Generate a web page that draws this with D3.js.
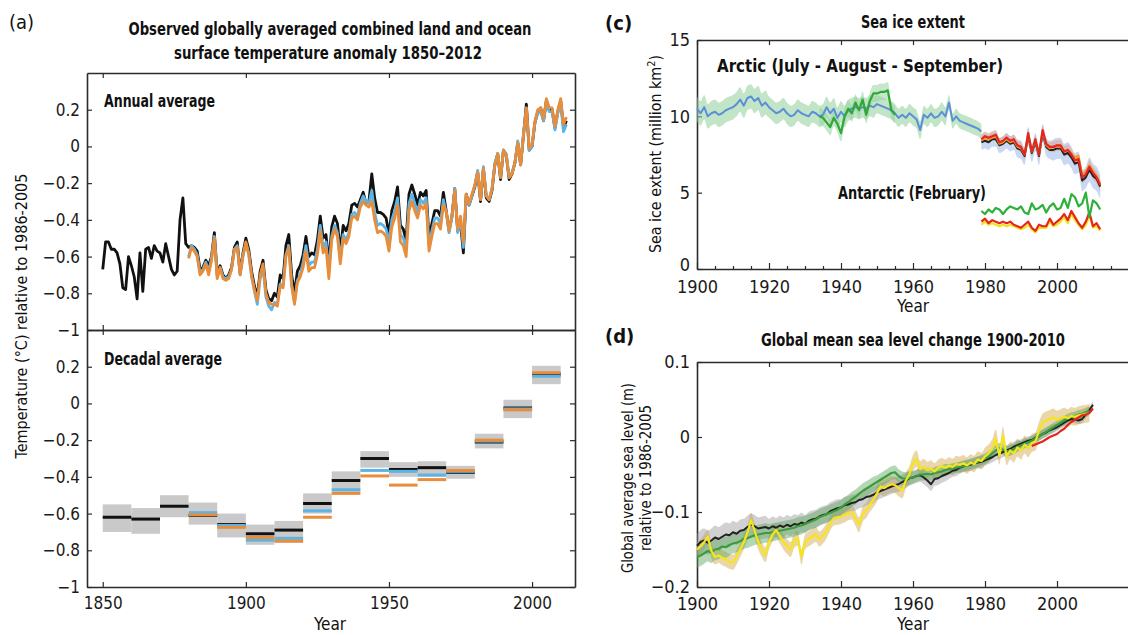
<!DOCTYPE html>
<html>
<head>
<meta charset="utf-8">
<title>Observed changes in the climate system</title>
<script src="https://cdn.jsdelivr.net/npm/d3@7/dist/d3.min.js"></script>
<style>
  body { margin: 0; background: #fff; }
  svg { display: block; }
</style>
</head>
<body>
<svg id="fig" width="1128" height="635"></svg>
<script>
// ---------------- (a) temperature anomaly, annual (1850-2012) ----------------
const tempStart = 1850;
const tempBlack = [
  -0.67,-0.52,-0.52,-0.56,-0.56,-0.58,-0.64,-0.77,-0.78,-0.60,
  -0.65,-0.71,-0.83,-0.58,-0.79,-0.56,-0.55,-0.61,-0.54,-0.57,
  -0.58,-0.63,-0.53,-0.60,-0.67,-0.70,-0.68,-0.40,-0.28,-0.53,
  -0.55,-0.54,-0.55,-0.57,-0.67,-0.66,-0.62,-0.65,-0.60,-0.47,
  -0.70,-0.65,-0.70,-0.72,-0.70,-0.66,-0.55,-0.52,-0.69,-0.58,
  -0.50,-0.56,-0.68,-0.76,-0.82,-0.68,-0.62,-0.78,-0.83,-0.84,
  -0.80,-0.82,-0.70,-0.72,-0.54,-0.48,-0.70,-0.80,-0.68,-0.65,
  -0.59,-0.49,-0.60,-0.58,-0.59,-0.51,-0.38,-0.50,-0.48,-0.64,
  -0.44,-0.38,-0.42,-0.57,-0.43,-0.46,-0.42,-0.32,-0.31,-0.33,
  -0.29,-0.25,-0.31,-0.30,-0.15,-0.28,-0.36,-0.36,-0.37,-0.39,
  -0.48,-0.35,-0.30,-0.22,-0.43,-0.45,-0.51,-0.26,-0.21,-0.26,
  -0.32,-0.25,-0.27,-0.24,-0.50,-0.42,-0.35,-0.35,-0.38,-0.25,
  -0.35,-0.46,-0.38,-0.23,-0.46,-0.42,-0.58,-0.26,-0.32,-0.27,
  -0.22,-0.14,-0.30,-0.12,-0.28,-0.30,-0.24,-0.10,-0.04,-0.18,
  -0.02,-0.05,-0.18,-0.15,-0.09,0.02,-0.10,0.06,0.23,-0.02,
  0.00,0.13,0.19,0.21,0.14,0.25,0.20,0.20,0.10,0.19,
  0.25,0.10,0.14
];
const tempStart2 = 1880;
const tempBlue = [
  -0.60,-0.54,-0.56,-0.59,-0.69,-0.67,-0.63,-0.68,-0.61,-0.49,
  -0.71,-0.66,-0.71,-0.72,-0.71,-0.67,-0.56,-0.54,-0.70,-0.59,
  -0.53,-0.59,-0.71,-0.79,-0.86,-0.72,-0.66,-0.82,-0.87,-0.89,
  -0.85,-0.86,-0.75,-0.76,-0.59,-0.54,-0.75,-0.85,-0.73,-0.70,
  -0.63,-0.54,-0.65,-0.63,-0.63,-0.56,-0.43,-0.55,-0.52,-0.68,
  -0.49,-0.43,-0.47,-0.62,-0.48,-0.51,-0.47,-0.37,-0.36,-0.38,
  -0.31,-0.27,-0.30,-0.31,-0.24,-0.36,-0.43,-0.42,-0.43,-0.45,
  -0.52,-0.40,-0.35,-0.28,-0.48,-0.50,-0.56,-0.31,-0.26,-0.31,
  -0.36,-0.29,-0.31,-0.28,-0.54,-0.46,-0.39,-0.39,-0.42,-0.29,
  -0.36,-0.47,-0.39,-0.23,-0.47,-0.40,-0.55,-0.27,-0.32,-0.27,
  -0.21,-0.13,-0.29,-0.11,-0.27,-0.29,-0.23,-0.09,-0.04,-0.17,
  -0.02,-0.04,-0.17,-0.14,-0.09,0.03,-0.10,0.07,0.21,-0.02,
  0.00,0.13,0.18,0.19,0.14,0.23,0.19,0.19,0.09,0.18,
  0.23,0.08,0.12
];
const tempOrange = [
  -0.61,-0.55,-0.57,-0.60,-0.70,-0.68,-0.64,-0.70,-0.62,-0.50,
  -0.72,-0.66,-0.72,-0.73,-0.72,-0.67,-0.56,-0.55,-0.70,-0.60,
  -0.52,-0.58,-0.70,-0.78,-0.84,-0.70,-0.64,-0.80,-0.85,-0.86,
  -0.86,-0.87,-0.76,-0.77,-0.60,-0.55,-0.76,-0.86,-0.74,-0.71,
  -0.66,-0.57,-0.68,-0.66,-0.66,-0.59,-0.46,-0.58,-0.55,-0.72,
  -0.51,-0.45,-0.49,-0.64,-0.50,-0.53,-0.49,-0.39,-0.38,-0.40,
  -0.33,-0.30,-0.32,-0.33,-0.30,-0.40,-0.47,-0.46,-0.47,-0.49,
  -0.57,-0.44,-0.39,-0.32,-0.52,-0.54,-0.60,-0.35,-0.30,-0.35,
  -0.39,-0.32,-0.34,-0.31,-0.57,-0.49,-0.42,-0.42,-0.45,-0.32,
  -0.35,-0.46,-0.38,-0.24,-0.45,-0.38,-0.52,-0.26,-0.31,-0.26,
  -0.21,-0.14,-0.29,-0.12,-0.27,-0.29,-0.23,-0.10,-0.04,-0.17,
  -0.02,-0.05,-0.17,-0.15,-0.09,0.02,-0.10,0.06,0.21,-0.01,
  0.01,0.14,0.20,0.21,0.15,0.26,0.21,0.21,0.11,0.20,
  0.26,0.12,0.16
];

// decadal averages
const decStart  = [1850,1860,1870,1880,1890,1900,1910,1920,1930,1940,1950,1960,1970,1980,1990,2000];
const decBlack  = [-0.62,-0.63,-0.56,-0.61,-0.66,-0.71,-0.69,-0.545,-0.42,-0.30,-0.36,-0.35,-0.375,-0.21,-0.025,0.16];
const decBlue   = [null,null,null,-0.595,-0.665,-0.745,-0.735,-0.585,-0.47,-0.365,-0.37,-0.39,-0.37,-0.205,-0.03,0.148];
const decOrange = [null,null,null,-0.607,-0.675,-0.73,-0.75,-0.62,-0.49,-0.395,-0.445,-0.415,-0.365,-0.20,-0.035,0.167];
const decLow    = [-0.70,-0.71,-0.62,-0.66,-0.73,-0.77,-0.76,-0.60,-0.49,-0.35,-0.40,-0.40,-0.41,-0.245,-0.08,0.105];
const decHigh   = [-0.55,-0.57,-0.50,-0.54,-0.60,-0.66,-0.64,-0.49,-0.37,-0.26,-0.32,-0.315,-0.34,-0.165,0.02,0.205];

// ---------------- (c) sea ice extent (million km2) ----------------
const arcticStart = 1900;
const arcticBlue = [
  10.5,10.2,10.6,10.0,10.2,10.3,10.1,10.2,10.4,10.5,
  10.6,10.8,11.1,10.7,11.2,11.3,11.0,11.2,10.7,10.9,
  10.6,10.4,10.2,10.3,10.5,10.2,10.0,10.1,10.4,10.2,
  10.1,10.0,10.3,10.2,10.0,10.1,10.6,10.2,10.5,9.9,
  10.3,10.0,10.4,10.5,10.6,10.5,10.6,10.5,10.7,10.6,
  10.8,10.7,10.6,10.5,10.4,10.2,9.9,10.1,9.9,10.2,
  10.0,9.8,9.1,10.1,9.9,10.2,9.9,10.0,10.3,10.0,
  10.9,9.7,10.0,9.7,9.6,9.5,9.4,9.3,9.2,9.0
];
const arcticBandErr = [0.8,0.8,0.7,0.7,0.7,0.6,0.6,0.5];   // per decade 1900s..1970s
const arcticGreenStart = 1934;
const arcticGreen = [10.0,9.9,9.6,9.3,9.9,9.5,8.9,10.0,10.5,10.2,10.9,10.4,11.1,10.1,11.0,11.5,11.5,11.6,11.6,11.7,10.4,10.1];
const satStart = 1979;
const arcticRed = [
  8.5,8.7,8.6,8.7,8.8,8.3,8.4,8.6,8.4,8.5,
  8.1,8.0,7.5,8.9,7.7,8.5,7.5,9.1,8.2,8.0,
  8.0,8.1,8.1,7.7,7.8,7.5,7.1,7.2,6.0,6.2,
  6.7,6.3,6.0,5.5
];
const arcticBlack = [
  8.3,8.4,8.3,8.5,8.5,8.1,8.2,8.4,8.2,8.3,
  7.9,7.8,7.4,8.7,7.6,8.3,7.4,8.9,8.0,7.8,
  7.8,7.9,7.9,7.5,7.6,7.3,6.9,7.0,5.8,6.0,
  6.5,6.1,5.9,5.4
];
const arcticOrange = [
  8.4,8.6,8.5,8.6,8.7,8.2,8.3,8.5,8.3,8.4,
  8.0,7.9,7.5,8.8,7.7,8.4,7.5,9.0,8.1,7.9,
  8.0,8.0,8.0,7.7,7.8,7.6,7.3,7.4,6.2,6.4,
  6.8,6.4,6.1,5.6
];
const satBlueErr = [0.5,0.6,0.7,0.8];   // per decade 1979..2012
const satRedErr  = [0.3,0.3,0.35,0.4];
const antGreen = [
  3.8,3.6,3.9,3.7,4.0,3.9,3.6,3.9,4.1,4.0,
  3.9,4.1,3.7,3.6,4.3,3.9,4.0,4.2,3.7,4.1,
  4.3,3.9,4.0,4.6,4.0,4.9,4.7,4.1,4.3,5.0,
  3.4,4.5,4.3,3.9
];
const antRed = [
  3.1,3.3,3.0,3.2,3.1,3.0,3.1,3.0,3.1,2.9,
  2.8,2.7,2.9,3.1,2.7,2.5,2.9,2.8,2.8,3.3,
  2.9,3.1,3.3,3.6,3.2,3.8,3.4,3.0,2.7,3.1,
  3.7,2.8,3.0,2.6
];
const antYellow = [
  2.9,3.1,2.9,3.0,2.9,2.8,2.9,2.8,2.9,2.8,
  2.7,2.6,2.7,2.9,2.6,2.4,2.7,2.7,2.7,3.1,
  2.8,2.9,3.1,3.4,3.0,3.6,3.2,2.9,2.6,2.9,
  3.5,2.7,2.8,2.5
];

// ---------------- (d) global mean sea level (m) ----------------
const slStart = 1900;
const slBlack = [
  -0.145,-0.140,-0.138,-0.141,-0.138,-0.134,-0.136,-0.133,-0.130,-0.131,
  -0.127,-0.129,-0.125,-0.124,-0.120,-0.117,-0.119,-0.122,-0.121,-0.120,
  -0.122,-0.119,-0.121,-0.118,-0.120,-0.117,-0.119,-0.116,-0.117,-0.114,
  -0.116,-0.112,-0.110,-0.109,-0.106,-0.104,-0.103,-0.099,-0.097,-0.095,
  -0.094,-0.091,-0.090,-0.088,-0.087,-0.084,-0.083,-0.080,-0.079,-0.077,
  -0.074,-0.072,-0.070,-0.068,-0.066,-0.064,-0.063,-0.060,-0.058,-0.055,
  -0.054,-0.052,-0.051,-0.054,-0.058,-0.063,-0.056,-0.055,-0.052,-0.050,
  -0.048,-0.045,-0.044,-0.041,-0.039,-0.038,-0.037,-0.035,-0.034,-0.033,
  -0.031,-0.029,-0.027,-0.024,-0.022,-0.020,-0.018,-0.016,-0.013,-0.011,
  -0.009,-0.007,-0.005,-0.004,-0.001,0.001,0.004,0.006,0.009,0.011,
  0.013,0.016,0.019,0.022,0.024,0.023,0.022,0.024,0.030,0.036,
  0.043
];
const slGreen = [
  -0.160,-0.158,-0.155,-0.152,-0.154,-0.150,-0.149,-0.146,-0.147,-0.144,
  -0.142,-0.141,-0.139,-0.136,-0.135,-0.133,-0.131,-0.130,-0.129,-0.128,
  -0.128,-0.127,-0.126,-0.125,-0.124,-0.123,-0.122,-0.121,-0.119,-0.118,
  -0.116,-0.114,-0.112,-0.110,-0.107,-0.105,-0.103,-0.101,-0.099,-0.097,
  -0.094,-0.090,-0.087,-0.083,-0.080,-0.076,-0.072,-0.069,-0.066,-0.063,
  -0.060,-0.057,-0.054,-0.051,-0.048,-0.047,-0.052,-0.055,-0.056,-0.055,
  -0.054,-0.052,-0.050,-0.050,-0.049,-0.050,-0.048,-0.047,-0.046,-0.044,
  -0.043,-0.042,-0.041,-0.040,-0.039,-0.038,-0.036,-0.035,-0.033,-0.031,
  -0.029,-0.026,-0.022,-0.018,-0.015,-0.017,-0.019,-0.018,-0.016,-0.013,
  -0.011,-0.009,-0.007,-0.005,-0.002,0.001,0.004,0.007,0.010,0.013,
  0.016,0.019,0.022,0.025,0.027,0.028,0.030,0.031,0.033,0.035
];
const slYellow = [
  -0.150,-0.146,-0.140,-0.133,-0.152,-0.160,-0.158,-0.161,-0.163,-0.166,
  -0.167,-0.160,-0.150,-0.140,-0.128,-0.111,-0.125,-0.140,-0.150,-0.157,
  -0.140,-0.130,-0.124,-0.132,-0.140,-0.146,-0.150,-0.138,-0.135,-0.160,
  -0.140,-0.136,-0.133,-0.130,-0.136,-0.132,-0.125,-0.115,-0.108,-0.107,
  -0.106,-0.104,-0.101,-0.100,-0.108,-0.117,-0.103,-0.098,-0.090,-0.084,
  -0.075,-0.066,-0.068,-0.065,-0.063,-0.064,-0.068,-0.071,-0.058,-0.050,
  -0.035,-0.029,-0.043,-0.040,-0.044,-0.042,-0.046,-0.041,-0.039,-0.041,
  -0.038,-0.040,-0.036,-0.037,-0.035,-0.038,-0.034,-0.036,-0.030,-0.032,
  -0.026,-0.022,-0.015,-0.002,-0.025,0.002,-0.026,-0.018,-0.022,-0.014,
  -0.018,-0.010,-0.015,-0.008,-0.006,0.008,0.019,0.022,0.024,0.026,
  0.023,0.025,0.027,0.025,0.028,0.027,0.029,0.030,0.031,0.032
];
const slRedStart = 1993;
const slRed = [-0.012,-0.010,-0.008,-0.006,-0.003,0.000,0.002,0.004,0.008,0.011,0.016,0.020,0.023,0.026,0.029,0.030,0.032,0.038];
const slBlackErr  = [0.016,0.015,0.013,0.012,0.011,0.010,0.009,0.008,0.007,0.006,0.005,0.005];
const slGreenErr  = [0.014,0.013,0.012,0.011,0.010,0.009,0.008,0.007,0.007,0.006,0.006,0.006];
const slYellowErr = [0.010,0.010,0.010,0.010,0.010,0.011,0.011,0.011,0.012,0.012,0.012,0.012];

// ---------------- setup ----------------
const FONT = '"Liberation Sans Narrow","DejaVu Sans Condensed","Arial Narrow",sans-serif';
const AX = '#2b2b2b';
const svg = d3.select('#fig').attr('font-family', FONT);

const toSeries = (start, vals, err) => vals.map((v, i) => ({
  year: start + i, v: v,
  e: err ? err[Math.min(err.length - 1, Math.floor(i / 10))] : 0
}));

function styleAxis(g, fs) {
  g.attr('font-family', FONT).attr('font-size', fs);
  g.select('.domain').attr('stroke', AX).attr('stroke-width', 1.6);
  g.selectAll('.tick line').attr('stroke', AX).attr('stroke-width', 1.2);
  g.selectAll('.tick text').attr('fill', '#1a1a1a');
}

// text helper; o.len squeezes the text to the width it has in the figure (condensed face)
function addText(x, y, txt, o = {}) {
  const t = svg.append('text')
    .attr('x', x).attr('y', y)
    .attr('text-anchor', o.anchor || 'start')
    .attr('font-size', o.size || 16)
    .attr('font-weight', o.weight || 'normal')
    .attr('fill', '#111')
    .text(txt);
  if (o.len) t.attr('textLength', o.len).attr('lengthAdjust', 'spacingAndGlyphs');
  return t;
}

function addLine(x, y, data, color, w) {
  svg.append('path')
    .datum(data.filter(d => d.v != null))
    .attr('fill', 'none')
    .attr('stroke', color)
    .attr('stroke-width', w)
    .attr('stroke-linejoin', 'round')
    .attr('d', d3.line().x(d => x(d.year)).y(d => y(d.v)));
}

function addBand(x, y, data, color, op) {
  svg.append('path')
    .datum(data)
    .attr('fill', color)
    .attr('opacity', op)
    .attr('d', d3.area().curve(d3.curveMonotoneX)
      .x(d => x(d.year)).y0(d => y(d.v - d.e)).y1(d => y(d.v + d.e)));
}

// ================= panel (a) =================
const xA = d3.scaleLinear().domain([1844.5, 2015]).range([87, 575]);
const yA1 = d3.scaleLinear().domain([-1, 0.4]).range([330, 73]);
const yA2 = d3.scaleLinear().domain([-1, 0.4]).range([587, 330]);
const xTicksA = [1850, 1900, 1950, 2000];
const yTicksA = [-1, -0.8, -0.6, -0.4, -0.2, 0, 0.2];
const fmtY = d => d === 0 ? '0' : d3.format('~g')(d);

[yA1, yA2].forEach((y, k) => {
  const [yb, yt] = y.range();
  svg.append('g').attr('transform', `translate(87,0)`)
    .call(d3.axisLeft(y).tickValues(yTicksA).tickSize(-5).tickSizeOuter(0).tickPadding(7).tickFormat(fmtY))
    .call(g => styleAxis(g, 17));
  svg.append('g').attr('transform', `translate(575,0)`)
    .call(d3.axisRight(y).tickValues(yTicksA).tickSize(-5).tickSizeOuter(0).tickFormat(''))
    .call(g => styleAxis(g, 17));
  svg.append('g').attr('transform', `translate(0,${yt})`)
    .call(d3.axisTop(xA).tickValues(xTicksA).tickSize(-5).tickSizeOuter(0).tickFormat(''))
    .call(g => styleAxis(g, 17));
  svg.append('g').attr('transform', `translate(0,${yb})`)
    .call(d3.axisBottom(xA).tickValues(xTicksA).tickSize(-5).tickSizeOuter(0).tickPadding(10)
      .tickFormat(k === 1 ? d3.format('d') : ''))
    .call(g => styleAxis(g, 17));
});

// annual lines
addLine(xA, yA1, toSeries(tempStart, tempBlack), '#111', 2.8);
addLine(xA, yA1, toSeries(tempStart2, tempBlue), '#5cb4e6', 2.8);
addLine(xA, yA1, toSeries(tempStart2, tempOrange), '#e98d3a', 2.8);

// decadal boxes and lines
const dec = decStart.map((s, i) => ({ s, black: decBlack[i], blue: decBlue[i], orange: decOrange[i], lo: decLow[i], hi: decHigh[i] }));
svg.append('g').selectAll('rect').data(dec).join('rect')
  .attr('x', d => xA(d.s)).attr('width', d => xA(d.s + 10) - xA(d.s))
  .attr('y', d => yA2(d.hi)).attr('height', d => yA2(d.lo) - yA2(d.hi))
  .attr('fill', '#c9c9c9');
[['black', '#111'], ['blue', '#5cb4e6'], ['orange', '#e98d3a']].forEach(([key, col]) => {
  svg.append('g').selectAll('line').data(dec.filter(d => d[key] != null)).join('line')
    .attr('x1', d => xA(d.s)).attr('x2', d => xA(d.s + 10))
    .attr('y1', d => yA2(d[key])).attr('y2', d => yA2(d[key]))
    .attr('stroke', col).attr('stroke-width', 3);
});

addText(9, 29, '(a)', { size: 20 });
addText(330, 35, 'Observed globally averaged combined land and ocean', { anchor: 'middle', size: 17, weight: 'bold', len: 403 });
addText(328, 59, 'surface temperature anomaly 1850\u20132012', { anchor: 'middle', size: 17, weight: 'bold', len: 308 });
addText(104, 107, 'Annual average', { size: 17, weight: 'bold', len: 111 });
addText(104, 365, 'Decadal average', { size: 17, weight: 'bold', len: 118 });
addText(330, 630, 'Year', { anchor: 'middle', size: 17 });
addText(0, 0, 'Temperature (\u00B0C) relative to 1986-2005', { anchor: 'middle', size: 16 })
  .attr('transform', 'translate(27,316) rotate(-90)');

// ================= panel (c) =================
const xC = d3.scaleLinear().domain([1900, 2020]).range([697, 1129]);
const yC = d3.scaleLinear().domain([0, 15]).range([269, 40]);
const majorX = [1900, 1920, 1940, 1960, 1980, 2000];
const minorX = d3.range(1905, 2020, 5).filter(v => v % 20 !== 0);

svg.append('g').attr('transform', 'translate(697,0)')
  .call(d3.axisLeft(yC).tickValues([0, 5, 10, 15]).tickSize(-5).tickSizeOuter(0).tickPadding(7))
  .call(g => styleAxis(g, 18))
  .call(g => g.selectAll('.tick text').filter(d => d === 0).attr('dy', '0.1em'));
svg.append('g').attr('transform', 'translate(0,40)')
  .call(d3.axisTop(xC).tickValues(majorX).tickSize(-5).tickSizeOuter(0).tickFormat(''))
  .call(g => styleAxis(g, 17));
svg.append('g').attr('transform', 'translate(0,269)')
  .call(d3.axisBottom(xC).tickValues(majorX).tickSize(-6).tickSizeOuter(0).tickPadding(11).tickFormat(d3.format('d')))
  .call(g => styleAxis(g, 18));
svg.append('g').attr('transform', 'translate(0,269)')
  .call(d3.axisBottom(xC).tickValues(minorX).tickSize(-3).tickSizeOuter(0).tickFormat(''))
  .call(g => { styleAxis(g, 17); g.select('.domain').remove(); });

// Arctic bands
addBand(xC, yC, toSeries(arcticStart, arcticBlue, arcticBandErr), '#8fd09a', 0.55);
addBand(xC, yC, toSeries(arcticGreenStart, arcticGreen, [0.55]), '#8fd09a', 0.5);
addBand(xC, yC, toSeries(satStart, arcticBlack, satBlueErr), '#9db8ea', 0.55);
addBand(xC, yC, toSeries(satStart, arcticRed, satRedErr), '#e3a090', 0.55);
// Arctic lines
addLine(xC, yC, toSeries(arcticStart, arcticBlue), '#5b8fd8', 2);
addLine(xC, yC, toSeries(arcticGreenStart, arcticGreen), '#2fa836', 2.2);
addLine(xC, yC, toSeries(satStart, arcticBlack), '#222', 2);
addLine(xC, yC, toSeries(satStart, arcticOrange), '#f39a2a', 2);
addLine(xC, yC, toSeries(satStart, arcticRed), '#e5261d', 2.2);
// Antarctic lines
addLine(xC, yC, toSeries(satStart, antYellow), '#f2e21a', 2.2);
addLine(xC, yC, toSeries(satStart, antRed), '#e5261d', 2.2);
addLine(xC, yC, toSeries(satStart, antGreen), '#2fb03a', 2.2);

addText(605, 30, '(c)', { size: 20, weight: 'bold' });
addText(913, 28, 'Sea ice extent', { anchor: 'middle', size: 17, weight: 'bold', len: 104 });
addText(717, 72, 'Arctic (July - August - September)', { size: 17, weight: 'bold', len: 286 });
addText(838, 199, 'Antarctic (February)', { size: 17, weight: 'bold', len: 148 });
addText(913, 312, 'Year', { anchor: 'middle', size: 17 });
const yl = addText(0, 0, '', { anchor: 'middle', size: 16 })
  .attr('transform', 'translate(661,154) rotate(-90)');
yl.append('tspan').text('Sea ice extent (million km');
yl.append('tspan').attr('dy', -6).attr('font-size', 11).text('2');
yl.append('tspan').attr('dy', 6).text(')');
yl.attr('textLength', 198).attr('lengthAdjust', 'spacingAndGlyphs');

// ================= panel (d) =================
const yD = d3.scaleLinear().domain([-0.2, 0.1]).range([587, 362]);
svg.append('g').attr('transform', 'translate(697,0)')
  .call(d3.axisLeft(yD).tickValues([-0.2, -0.1, 0, 0.1]).tickSize(-5).tickSizeOuter(0).tickPadding(7).tickFormat(fmtY))
  .call(g => styleAxis(g, 18));
svg.append('g').attr('transform', 'translate(0,362)')
  .call(d3.axisTop(xC).tickValues(majorX).tickSize(-5).tickSizeOuter(0).tickFormat(''))
  .call(g => styleAxis(g, 17));
svg.append('g').attr('transform', 'translate(0,587)')
  .call(d3.axisBottom(xC).tickValues(majorX).tickSize(-6).tickSizeOuter(0).tickPadding(10).tickFormat(d3.format('d')))
  .call(g => styleAxis(g, 18));

addBand(xC, yD, toSeries(slStart, slYellow, slYellowErr), '#d9b463', 0.55);
addBand(xC, yD, toSeries(slStart, slBlack, slBlackErr), '#9a9a9a', 0.45);
addBand(xC, yD, toSeries(slStart, slGreen, slGreenErr), '#5aa35a', 0.45);
addLine(xC, yD, toSeries(slStart, slBlack), '#222', 2);
addLine(xC, yD, toSeries(slStart, slGreen), '#3a9c3a', 2.2);
addLine(xC, yD, toSeries(slStart, slYellow), '#f5e51c', 2.2);
addLine(xC, yD, toSeries(slRedStart, slRed), '#e5261d', 2.2);

addText(605, 343, '(d)', { size: 20, weight: 'bold' });
addText(913, 346, 'Global mean sea level change 1900-2010', { anchor: 'middle', size: 17, weight: 'bold', len: 304 });
addText(913, 630, 'Year', { anchor: 'middle', size: 17 });
addText(0, 0, 'Global average sea level (m)', { anchor: 'middle', size: 16, len: 190 })
  .attr('transform', 'translate(633,478) rotate(-90)');
addText(0, 0, 'relative to 1986-2005', { anchor: 'middle', size: 16, len: 146 })
  .attr('transform', 'translate(651,478) rotate(-90)');
</script>
</body>
</html>
